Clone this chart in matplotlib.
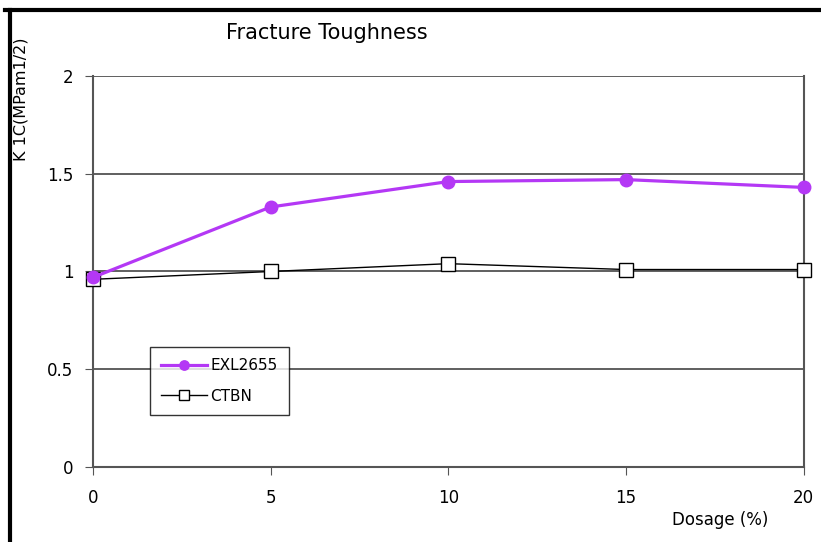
import matplotlib.pyplot as plt
from matplotlib.lines import Line2D

dosage = [0, 5, 10, 15, 20]
exl2655 = [0.97, 1.33, 1.46, 1.47, 1.43]
ctbn = [0.96, 1.00, 1.04, 1.01, 1.01]

fig = plt.figure(figsize=(8.21, 5.42), dpi=100)
ax = fig.add_axes([0.1133, 0.1384, 0.8657, 0.7214])

ax.plot(dosage, exl2655, color="#b438f5", lw=2.3, marker="o", ms=9,
        label="EXL2655", zorder=4, clip_on=False)
ax.plot(dosage, ctbn, color="black", lw=1, marker="s", ms=9.5,
        markerfacecolor="white", markeredgecolor="black", markeredgewidth=1,
        label="CTBN", zorder=3, clip_on=False)

ax.set_xlim(0, 20)
ax.set_ylim(0, 2)
ax.set_xticks([0, 5, 10, 15, 20])
ax.set_yticks([0, 0.5, 1, 1.5, 2])
ax.set_yticklabels(["0", "0.5", "1", "1.5", "2"])
ax.yaxis.grid(True, color="#444444", lw=1.2)
ax.set_axisbelow(True)
for s in ["left", "right", "bottom"]:
    ax.spines[s].set_color("#555555")
    ax.spines[s].set_linewidth(1.5)
ax.spines["top"].set_visible(False)
ax.tick_params(axis="both", direction="out", length=6, color="#555555",
               labelsize=12, pad=8)
ax.tick_params(axis="x", pad=10)

fig.text(0.398, 0.94, "Fracture Toughness", ha="center", va="center", fontsize=15)
fig.text(0.025, 0.817, "K 1C(MPam1/2)", rotation=90, ha="center", va="center", fontsize=11.5)
fig.text(0.877, 0.04, "Dosage (%)", ha="center", va="center", fontsize=12)

leg = ax.legend(loc="upper left", bbox_to_anchor=(0.08, 0.307), frameon=True,
                fancybox=False, fontsize=11, handlelength=3.0, borderpad=0.75,
                labelspacing=1.0, handletextpad=0.2, markerscale=0.75,
                borderaxespad=0)
leg.get_frame().set_edgecolor("black")
leg.get_frame().set_linewidth(1)

# page border on top and left
fig.add_artist(Line2D([0.006, 1.0], [0.981, 0.981], color="black", lw=3))
fig.add_artist(Line2D([0.012, 0.012], [0.0, 0.981], color="black", lw=3))

fig.savefig("out.png", dpi=100)
